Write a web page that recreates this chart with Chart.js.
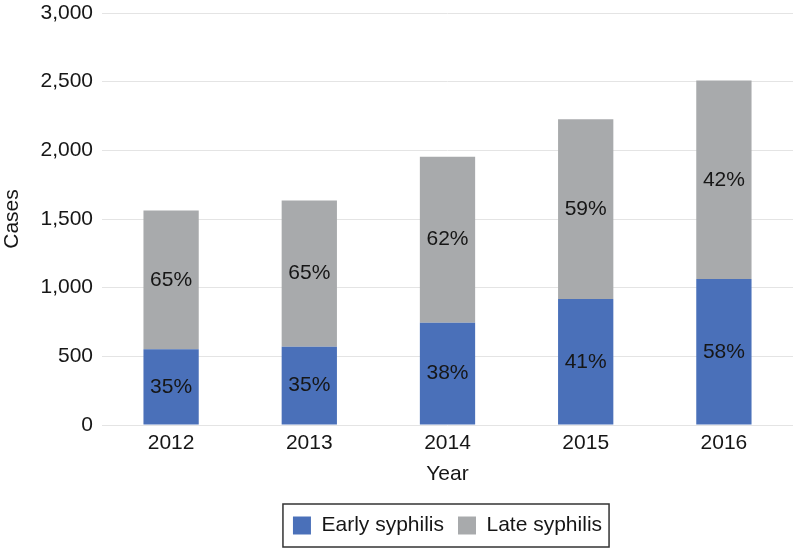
<!DOCTYPE html>
<html>
<head>
<meta charset="utf-8">
<script src="https://cdn.jsdelivr.net/npm/chart.js@4/dist/chart.umd.min.js"></script>
<style>
  html, body { margin: 0; padding: 0; background: #fff; }
  #wrap { width: 800px; height: 550px; }
</style>
</head>
<body>
<div id="wrap"><canvas id="syphChart" width="800" height="550"></canvas></div>
<script>
// values
const years = ["2012", "2013", "2014", "2015", "2016"];
const earlyCases = [551, 570, 745, 918, 1063];
const lateCases = [1010, 1064, 1209, 1308, 1445];
const earlyPct = ["35%", "35%", "38%", "41%", "58%"];
const latePct = ["65%", "65%", "62%", "59%", "42%"];
const yTicks = [0, 500, 1000, 1500, 2000, 2500, 3000];

const FONT = '"Liberation Sans", Arial, sans-serif';
const TEXT = "#161616";

// percentage text in the middle of each bar segment
const barLabels = {
  id: "barLabels",
  afterDatasetsDraw(chart) {
    const ctx = chart.ctx;
    ctx.save();
    ctx.font = "21px " + FONT;
    ctx.fillStyle = TEXT;
    ctx.textAlign = "center";
    ctx.textBaseline = "middle";
    chart.data.datasets.forEach((ds, i) => {
      chart.getDatasetMeta(i).data.forEach((bar, j) => {
        ctx.fillText(ds.pctLabels[j], bar.x, (bar.y + bar.base) / 2);
      });
    });
    ctx.restore();
  }
};

// centre legend under the plot, nudge it up a bit, frame it
const legendFrame = {
  id: "legendFrame",
  afterLayout(chart) {
    const lg = chart.legend;
    const a = chart.chartArea;
    const d = (a.left + a.right) / 2 - (lg.left + lg.right) / 2;
    lg.left += d;
    lg.right += d;
    lg.top -= 4;
    lg.bottom -= 4;
  },
  afterDraw(chart) {
    const boxes = chart.legend.legendHitBoxes;
    if (!boxes || !boxes.length) return;
    const l = Math.min(...boxes.map(b => b.left)) - 10;
    const r = Math.max(...boxes.map(b => b.left + b.width)) + 7;
    const t = Math.min(...boxes.map(b => b.top)) - 11;
    const btm = Math.max(...boxes.map(b => b.top + b.height)) + 11;
    const ctx = chart.ctx;
    ctx.save();
    ctx.strokeStyle = "#333";
    ctx.lineWidth = 1.5;
    ctx.strokeRect(l, t, r - l, btm - t);
    ctx.restore();
  }
};

const ctx = document.getElementById("syphChart").getContext("2d");

new Chart(ctx, {
  type: "bar",
  data: {
    labels: years,
    datasets: [
      {
        label: "Early syphilis",
        data: earlyCases,
        pctLabels: earlyPct,
        backgroundColor: "#4a70b9",
        borderWidth: 0
      },
      {
        label: "Late syphilis",
        data: lateCases,
        pctLabels: latePct,
        backgroundColor: "#a8aaac",
        borderWidth: 0
      }
    ]
  },
  options: {
    responsive: false,
    animation: false,
    layout: { padding: { top: 13, right: 7, left: 0, bottom: 0 } },
    datasets: {
      bar: { barPercentage: 0.4, categoryPercentage: 1.0 }
    },
    plugins: {
      tooltip: { enabled: false },
      legend: {
        position: "bottom",
        labels: {
          boxWidth: 18,
          boxHeight: 18,
          padding: 14,
          color: TEXT,
          font: { family: FONT, size: 21 }
        }
      }
    },
    scales: {
      x: {
        stacked: true,
        grid: { display: false, drawTicks: false },
        border: { display: false },
        ticks: { color: TEXT, padding: 6, font: { family: FONT, size: 21 } },
        title: {
          display: true,
          text: "Year",
          color: TEXT,
          font: { family: FONT, size: 21 },
          padding: { top: 4, bottom: 18 }
        },
        afterFit: (s) => { s.height = 80; }
      },
      y: {
        stacked: true,
        min: 0,
        max: 3000,
        afterBuildTicks: (s) => { s.ticks = yTicks.map(v => ({ value: v })); },
        grid: { color: "#e4e4e4", lineWidth: 1, drawTicks: false },
        border: { display: false },
        ticks: {
          color: TEXT,
          padding: 9,
          font: { family: FONT, size: 21 },
          callback: (v) => v.toLocaleString("en-US")
        },
        title: {
          display: true,
          text: "Cases",
          color: TEXT,
          font: { family: FONT, size: 21 },
          padding: { top: 0, bottom: 0 }
        },
        afterFit: (s) => {
          s.width = 102;
          s.paddingTop = 0;
          s.paddingBottom = 0;
        }
      }
    }
  },
  plugins: [barLabels, legendFrame]
});
</script>
</body>
</html>
